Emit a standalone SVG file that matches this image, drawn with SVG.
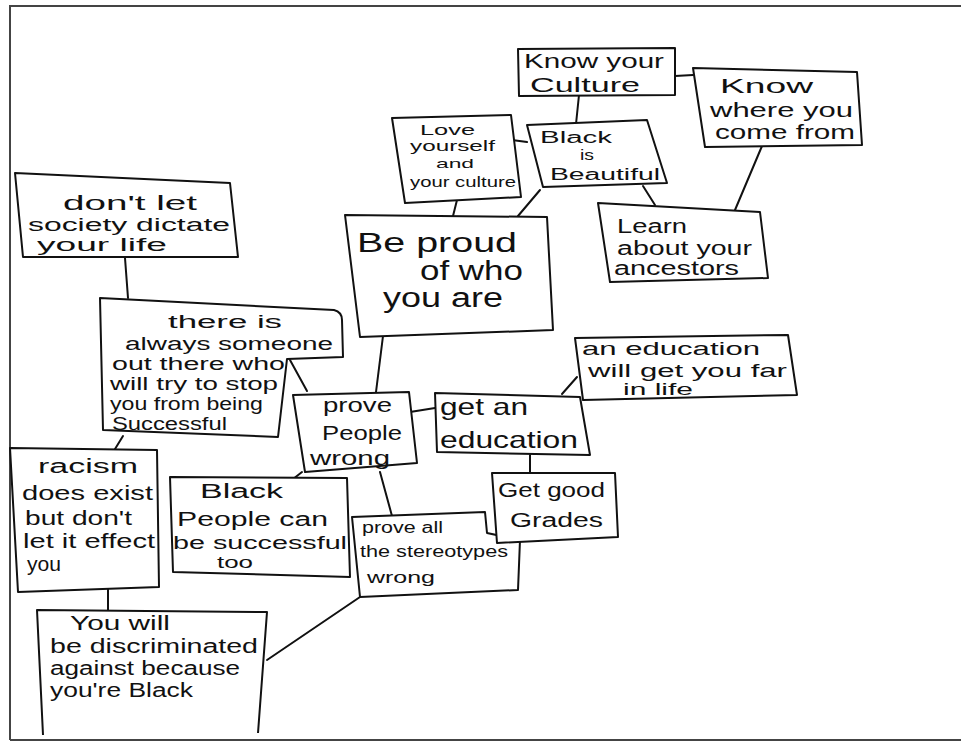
<svg xmlns="http://www.w3.org/2000/svg" width="961" height="741" viewBox="0 0 961 741">
<style>
.box{fill:#fff;stroke:#111;stroke-width:2;stroke-linejoin:round}
.ln{fill:none;stroke:#111;stroke-width:2;stroke-linecap:round}
text{font-family:"Liberation Sans","DejaVu Sans",sans-serif;fill:#111}
.s13{font-size:13px}.s14{font-size:14px}.s15{font-size:15px}.s16{font-size:16px}.s17{font-size:17px}.s18{font-size:18px}.s20{font-size:20px}.s24{font-size:24px}.s26{font-size:27px}
</style>
<rect x="0" y="0" width="961" height="741" fill="#fff"/>
<path d="M10,740 L10,6 L961,6" fill="none" stroke="#444" stroke-width="2"/>
<path d="M10,740 L961,740" fill="none" stroke="#444" stroke-width="2"/>

<g id="connectors">
<line class="ln" x1="675" y1="76" x2="693" y2="75"/>
<line class="ln" x1="579" y1="95" x2="576" y2="124"/>
<line class="ln" x1="512" y1="140" x2="527" y2="142"/>
<line class="ln" x1="643" y1="186" x2="655" y2="205"/>
<line class="ln" x1="762" y1="146" x2="735" y2="210"/>
<line class="ln" x1="457" y1="200" x2="453" y2="216"/>
<line class="ln" x1="540" y1="190" x2="518" y2="216"/>
<line class="ln" x1="125" y1="258" x2="128" y2="298"/>
<line class="ln" x1="383" y1="336" x2="376" y2="392"/>
<line class="ln" x1="290" y1="360" x2="307" y2="391"/>
<line class="ln" x1="123" y1="436" x2="115" y2="449"/>
<line class="ln" x1="410" y1="412" x2="435" y2="408"/>
<line class="ln" x1="562" y1="394" x2="577" y2="377"/>
<line class="ln" x1="530" y1="455" x2="530" y2="473"/>
<line class="ln" x1="380" y1="472" x2="392" y2="516"/>
<line class="ln" x1="302" y1="472" x2="288" y2="483"/>
<line class="ln" x1="108" y1="588" x2="108" y2="611"/>
<line class="ln" x1="360" y1="597" x2="267" y2="660"/>
</g>

<g id="n-know-culture">
<path class="box" d="M518,49 L675,48 L675,95 L519,96 Z"/>
<text class="s20" x="524" y="68" textLength="140" lengthAdjust="spacingAndGlyphs">Know your</text>
<text class="s20" x="530" y="92" textLength="110" lengthAdjust="spacingAndGlyphs">Culture</text>
</g>

<g id="n-know-where">
<path class="box" d="M693,68 L857,72 L862,145 L705,147 Z"/>
<text class="s20" x="720" y="93" textLength="93" lengthAdjust="spacingAndGlyphs">Know</text>
<text class="s20" x="710" y="117" textLength="143" lengthAdjust="spacingAndGlyphs">where you</text>
<text class="s20" x="715" y="139" textLength="140" lengthAdjust="spacingAndGlyphs">come from</text>
</g>

<g id="n-black-beautiful">
<path class="box" d="M527,125 L647,120 L667,183 L543,187 Z"/>
<text class="s16" x="540" y="143" textLength="72" lengthAdjust="spacingAndGlyphs">Black</text>
<text class="s15" x="580" y="160" textLength="14" lengthAdjust="spacingAndGlyphs">is</text>
<text class="s16" x="550" y="180" textLength="110" lengthAdjust="spacingAndGlyphs">Beautiful</text>
</g>

<g id="n-love">
<path class="box" d="M392,118 L511,115 L521,197 L405,203 Z"/>
<text class="s15" x="420" y="135" textLength="55" lengthAdjust="spacingAndGlyphs">Love</text>
<text class="s14" x="410" y="151" textLength="85" lengthAdjust="spacingAndGlyphs">yourself</text>
<text class="s13" x="436" y="168" textLength="38" lengthAdjust="spacingAndGlyphs">and</text>
<text class="s15" x="410" y="187" textLength="106" lengthAdjust="spacingAndGlyphs">your culture</text>
</g>

<g id="n-learn">
<path class="box" d="M598,203 L760,212 L768,278 L610,282 Z"/>
<text class="s20" x="617" y="233" textLength="70" lengthAdjust="spacingAndGlyphs">Learn</text>
<text class="s20" x="617" y="255" textLength="135" lengthAdjust="spacingAndGlyphs">about your</text>
<text class="s20" x="614" y="275" textLength="125" lengthAdjust="spacingAndGlyphs">ancestors</text>
</g>

<g id="n-be-proud">
<path class="box" d="M345,215 L547,217 L553,330 L360,337 Z"/>
<text class="s26" x="357" y="252" textLength="160" lengthAdjust="spacingAndGlyphs">Be proud</text>
<text class="s26" x="420" y="280" textLength="103" lengthAdjust="spacingAndGlyphs">of who</text>
<text class="s26" x="383" y="307" textLength="120" lengthAdjust="spacingAndGlyphs">you are</text>
</g>

<g id="n-dont-let">
<path class="box" d="M15,173 L230,183 L238,257 L23,257 Z"/>
<text class="s20" x="63" y="210" textLength="134" lengthAdjust="spacingAndGlyphs">don't let</text>
<text class="s18" x="28" y="231" textLength="202" lengthAdjust="spacingAndGlyphs">society dictate</text>
<text class="s18" x="37" y="251" textLength="130" lengthAdjust="spacingAndGlyphs">your life</text>
</g>

<g id="n-there-is">
<path class="box" d="M100,298 L334,310 Q342,312 342,320 L343,357 L287,359 L278,437 L103,430 Z"/>
<text class="s18" x="168" y="328" textLength="114" lengthAdjust="spacingAndGlyphs">there is</text>
<text class="s18" x="125" y="350" textLength="208" lengthAdjust="spacingAndGlyphs">always someone</text>
<text class="s18" x="112" y="370" textLength="173" lengthAdjust="spacingAndGlyphs">out there who</text>
<text class="s18" x="110" y="390" textLength="168" lengthAdjust="spacingAndGlyphs">will try to stop</text>
<text class="s18" x="110" y="410" textLength="153" lengthAdjust="spacingAndGlyphs">you from being</text>
<text class="s18" x="112" y="430" textLength="115" lengthAdjust="spacingAndGlyphs">Successful</text>
</g>

<g id="n-prove-people">
<path class="box" d="M293,395 L409,392 L417,463 L305,472 Z"/>
<text class="s20" x="323" y="412" textLength="69" lengthAdjust="spacingAndGlyphs">prove</text>
<text class="s20" x="322" y="440" textLength="80" lengthAdjust="spacingAndGlyphs">People</text>
<text class="s20" x="310" y="465" textLength="80" lengthAdjust="spacingAndGlyphs">wrong</text>
</g>

<g id="n-an-education">
<path class="box" d="M575,338 L788,335 L797,395 L583,400 Z"/>
<text class="s18" x="582" y="355" textLength="178" lengthAdjust="spacingAndGlyphs">an education</text>
<text class="s18" x="588" y="377" textLength="199" lengthAdjust="spacingAndGlyphs">will get you far</text>
<text class="s17" x="623" y="395" textLength="70" lengthAdjust="spacingAndGlyphs">in life</text>
</g>

<g id="n-get-education">
<path class="box" d="M435,393 L580,397 L590,455 L437,452 Z"/>
<text class="s24" x="440" y="415" textLength="88" lengthAdjust="spacingAndGlyphs">get an</text>
<text class="s24" x="440" y="448" textLength="138" lengthAdjust="spacingAndGlyphs">education</text>
</g>

<g id="n-prove-all">
<path class="box" d="M352,517 L485,512 L487,533 L520,540 L518,590 L360,597 Z"/>
<text class="s16" x="362" y="533" textLength="81" lengthAdjust="spacingAndGlyphs">prove all</text>
<text class="s16" x="360" y="557" textLength="148" lengthAdjust="spacingAndGlyphs">the stereotypes</text>
<text class="s16" x="367" y="583" textLength="68" lengthAdjust="spacingAndGlyphs">wrong</text>
</g>

<g id="n-good-grades">
<path class="box" d="M492,473 L615,473 L618,537 L497,543 Z"/>
<text class="s20" x="498" y="497" textLength="107" lengthAdjust="spacingAndGlyphs">Get good</text>
<text class="s20" x="510" y="527" textLength="93" lengthAdjust="spacingAndGlyphs">Grades</text>
</g>

<g id="n-racism">
<path class="box" d="M10,448 L157,450 L159,587 L18,592 Z"/>
<text class="s20" x="38" y="473" textLength="100" lengthAdjust="spacingAndGlyphs">racism</text>
<text class="s20" x="22" y="500" textLength="131" lengthAdjust="spacingAndGlyphs">does exist</text>
<text class="s20" x="25" y="525" textLength="107" lengthAdjust="spacingAndGlyphs">but don't</text>
<text class="s20" x="23" y="548" textLength="132" lengthAdjust="spacingAndGlyphs">let it effect</text>
<text class="s20" x="27" y="571" textLength="34" lengthAdjust="spacingAndGlyphs">you</text>
</g>

<g id="n-black-people">
<path class="box" d="M170,477 L347,478 L350,577 L173,572 Z"/>
<text class="s20" x="200" y="498" textLength="83" lengthAdjust="spacingAndGlyphs">Black</text>
<text class="s20" x="177" y="526" textLength="151" lengthAdjust="spacingAndGlyphs">People can</text>
<text class="s18" x="173" y="549" textLength="174" lengthAdjust="spacingAndGlyphs">be successful</text>
<text class="s16" x="217" y="568" textLength="36" lengthAdjust="spacingAndGlyphs">too</text>
</g>

<g id="n-you-will">
<path class="box" d="M43,735 L37,610 L267,612 L258,733"/>
<text class="s20" x="70" y="630" textLength="100" lengthAdjust="spacingAndGlyphs">You will</text>
<text class="s20" x="50" y="653" textLength="208" lengthAdjust="spacingAndGlyphs">be discriminated</text>
<text class="s20" x="50" y="675" textLength="190" lengthAdjust="spacingAndGlyphs">against because</text>
<text class="s20" x="50" y="697" textLength="143" lengthAdjust="spacingAndGlyphs">you're Black</text>
</g>
</svg>
